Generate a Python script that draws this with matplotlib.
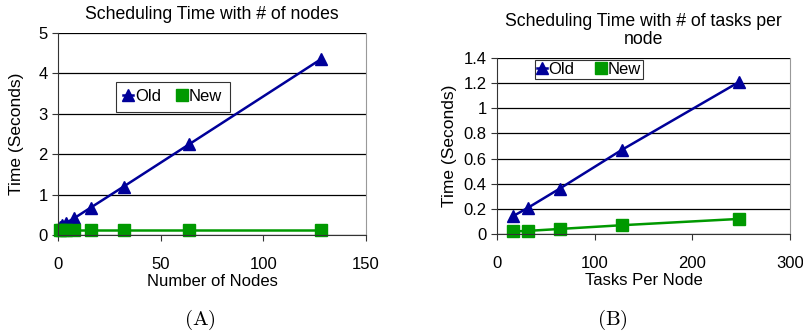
import matplotlib.pyplot as plt

plt.rcParams['font.family'] = ['Liberation Sans', 'DejaVu Sans']
plt.rcParams['mathtext.fontset'] = 'cm'

# Panel A: scheduling time vs number of nodes
nodes = [1, 2, 4, 8, 16, 32, 64, 128]
nodes_old = [0.2, 0.25, 0.3, 0.42, 0.68, 1.2, 2.25, 4.35]
nodes_new = [0.12, 0.12, 0.12, 0.12, 0.12, 0.12, 0.12, 0.12]

# Panel B: scheduling time vs tasks per node
tasks = [16, 32, 64, 128, 248]
tasks_old = [0.14, 0.21, 0.36, 0.67, 1.21]
tasks_new = [0.02, 0.025, 0.04, 0.07, 0.12]

OLD_C = '#000099'
NEW_C = '#009900'


def style(ax, xlim, xticks, ylim, yticks, yticklabels):
    ax.set_xlim(xlim)
    ax.set_ylim(ylim)
    ax.set_xticks(xticks)
    ax.set_yticks(yticks)
    ax.set_yticklabels(yticklabels)
    ax.yaxis.grid(True, color='black', linewidth=0.9)
    ax.set_axisbelow(True)
    ax.spines['top'].set_visible(False)
    ax.spines['right'].set_color('#999999')
    ax.spines['left'].set_color('#333333')
    ax.spines['bottom'].set_color('#333333')
    ax.tick_params(axis='both', labelsize=12, direction='out', length=4, width=0.8, color='#333333')
    ax.tick_params(axis='x', pad=12)


def draw(ax, x, old, new):
    ax.plot(x, old, color=OLD_C, marker='^', markersize=9, linewidth=1.8, label='Old', clip_on=False)
    ax.plot(x, new, color=NEW_C, marker='s', markersize=8, linewidth=1.8, label='New', clip_on=False)


fig = plt.figure(figsize=(8.04, 3.35), dpi=100)
W, H = 804, 335

# left panel
axA = fig.add_axes([58 / W, 1 - 235 / H, (366 - 58) / W, (235 - 33) / H])
draw(axA, nodes, nodes_old, nodes_new)
style(axA, (0, 150), [0, 50, 100, 150], (0, 5), [0, 1, 2, 3, 4, 5], ['0', '1', '2', '3', '4', '5'])
axA.set_title('Scheduling Time with # of nodes', fontsize=12.7, pad=10)
axA.set_xlabel('Number of Nodes', fontsize=12, labelpad=1)
axA.set_ylabel('Time (Seconds)', fontsize=12.5, labelpad=10)
legA = axA.legend(loc='upper left', bbox_to_anchor=(0.16, 0.8), ncol=2, fontsize=12,
                  frameon=True, fancybox=False, edgecolor='black', handlelength=0.6,
                  handletextpad=0.1, columnspacing=1.0, borderpad=0.45, numpoints=1)
legA.get_frame().set_linewidth(0.8)

# right panel
axB = fig.add_axes([497 / W, 1 - 234 / H, (790 - 497) / W, (234 - 58) / H])
draw(axB, tasks, tasks_old, tasks_new)
style(axB, (0, 300), [0, 100, 200, 300], (0, 1.4), [0, 0.2, 0.4, 0.6, 0.8, 1.0, 1.2, 1.4],
      ['0', '0.2', '0.4', '0.6', '0.8', '1', '1.2', '1.4'])
axB.set_title('Scheduling Time with # of tasks per\nnode', fontsize=12.7, pad=10, linespacing=1.1)
axB.set_xlabel('Tasks Per Node', fontsize=12, labelpad=1)
axB.set_ylabel('Time (Seconds)', fontsize=12.5, labelpad=5)
legB = axB.legend(loc='upper left', bbox_to_anchor=(0.10, 1.035), ncol=2, fontsize=12,
                  frameon=True, fancybox=False, edgecolor='black', handlelength=0.6,
                  handletextpad=0.1, columnspacing=1.3, borderpad=0.12, numpoints=1)
legB.get_frame().set_linewidth(0.8)

fig.text(200 / W, 1 - 320 / H, r'$\mathrm{(A)}$', fontsize=15, ha='center', va='center')
fig.text(612 / W, 1 - 320 / H, r'$\mathrm{(B)}$', fontsize=15, ha='center', va='center')

fig.savefig('out.png', dpi=100)
